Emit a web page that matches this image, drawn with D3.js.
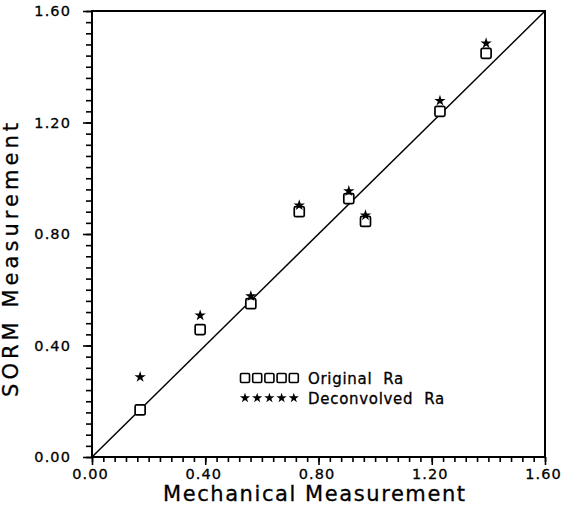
<!DOCTYPE html>
<html><head><meta charset="utf-8">
<script src="https://cdn.jsdelivr.net/npm/d3@7"></script>
<style>
body{margin:0;background:#fff;}
text{font-family:"DejaVu Sans",sans-serif;fill:#000;}
</style></head>
<body><svg id="c" width="563" height="508"></svg>
<script>
const mechanical = [0.17, 0.382, 0.561, 0.732, 0.907, 0.966, 1.229, 1.392];
const originalRa = [0.169, 0.457, 0.550, 0.880, 0.927, 0.845, 1.240, 1.448];
const deconvolvedRa = [0.287, 0.508, 0.577, 0.903, 0.954, 0.867, 1.278, 1.484];
const majorTicks = [0, 0.4, 0.8, 1.2, 1.6];
const minorTicks = d3.range(0, 41).map(i => i * 0.04);
const legendLabels = ["Original  Ra", "Deconvolved  Ra"];

const svg = d3.select("#c");
const L = 92, R = 545, T = 11, B = 457;
const x = d3.scaleLinear().domain([0, 1.6]).range([L, R]);
const y = d3.scaleLinear().domain([0, 1.6]).range([B, T]);

// frame
svg.append("rect").attr("x", L).attr("y", T).attr("width", R - L).attr("height", B - T)
  .attr("fill", "none").attr("stroke", "#000").attr("stroke-width", 2);

// x axis
const xAxisMinor = d3.axisBottom(x).tickValues(minorTicks).tickSize(5).tickFormat("");
const xg1 = svg.append("g").attr("transform", `translate(0,${B})`).call(xAxisMinor);
const xAxisMajor = d3.axisBottom(x).tickValues(majorTicks).tickSize(8).tickPadding(4).tickFormat(d3.format(".2f"));
const xg2 = svg.append("g").attr("transform", `translate(0,${B})`).call(xAxisMajor);
// y axis
const yAxisMinor = d3.axisLeft(y).tickValues(minorTicks).tickSize(6).tickFormat("");
const yg1 = svg.append("g").attr("transform", `translate(${L},0)`).call(yAxisMinor);
const yAxisMajor = d3.axisLeft(y).tickValues(majorTicks).tickSize(9).tickPadding(12).tickFormat(d3.format(".2f"));
const yg2 = svg.append("g").attr("transform", `translate(${L},0)`).call(yAxisMajor);
[xg1, xg2, yg1, yg2].forEach(g => {
  g.select(".domain").remove();
  g.selectAll("line").attr("stroke", "#000").attr("stroke-width", 1.6);
  g.selectAll("text").style("font-size", "14.5px").style("letter-spacing", "1.1px")
    .style("font-family", '"DejaVu Sans",sans-serif').attr("fill", "#000")
    .attr("stroke", "#000").attr("stroke-width", 0.3);
});
xg2.selectAll("text").attr("dx", "-2px");

// diagonal
svg.append("line").attr("x1", x(0)).attr("y1", y(0)).attr("x2", x(1.6)).attr("y2", y(1.6))
  .attr("stroke", "#000").attr("stroke-width", 1.5);

const star = d3.symbol().type(d3.symbolStar).size(40);

// original squares
svg.append("g").selectAll("rect").data(mechanical).join("rect")
  .attr("x", (d) => x(d) - 5).attr("y", (d, i) => y(originalRa[i]) - 5)
  .attr("width", 10).attr("height", 10).attr("rx", 1.5)
  .attr("fill", "#fff").attr("stroke", "#000").attr("stroke-width", 1.7);
// deconvolved stars
svg.append("g").selectAll("path").data(mechanical).join("path")
  .attr("d", star).attr("transform", (d, i) => `translate(${x(d)},${y(deconvolvedRa[i])})`)
  .attr("fill", "#000");

// legend
const lg = svg.append("g");
const lx0 = 245, ly0 = 378, ly1 = 398;
d3.range(5).forEach(i => {
  lg.append("rect").attr("x", lx0 + i * 12.2 - 4.5).attr("y", ly0 - 4.5).attr("width", 9).attr("height", 9)
    .attr("rx", 1.2).attr("fill", "none").attr("stroke", "#000").attr("stroke-width", 1.6);
  lg.append("path").attr("d", d3.symbol().type(d3.symbolStar).size(32))
    .attr("transform", `translate(${lx0 + i * 12.2},${ly1})`).attr("fill", "#000");
});
lg.append("text").attr("x", 308).attr("y", ly0 + 6).style("font-size", "15px").style("letter-spacing", "0.7px")
  .style("white-space", "pre").attr("stroke", "#000").attr("stroke-width", 0.3).text(legendLabels[0]);
lg.append("text").attr("x", 308).attr("y", ly1 + 6).style("font-size", "15px").style("letter-spacing", "0.7px")
  .style("white-space", "pre").attr("stroke", "#000").attr("stroke-width", 0.3).text(legendLabels[1]);

// axis titles
svg.append("text").attr("x", 314).attr("y", 501).attr("text-anchor", "middle")
  .style("font-size", "21px").attr("textLength", 302).attr("lengthAdjust", "spacing")
  .attr("stroke", "#000").attr("stroke-width", 0.3).text("Mechanical Measurement");
svg.append("text").attr("transform", `translate(18,260) rotate(-90)`).attr("text-anchor", "middle")
  .style("font-size", "21px").attr("textLength", 274).attr("lengthAdjust", "spacing")
  .attr("stroke", "#000").attr("stroke-width", 0.3).text("SORM Measurement");
</script></body></html>
